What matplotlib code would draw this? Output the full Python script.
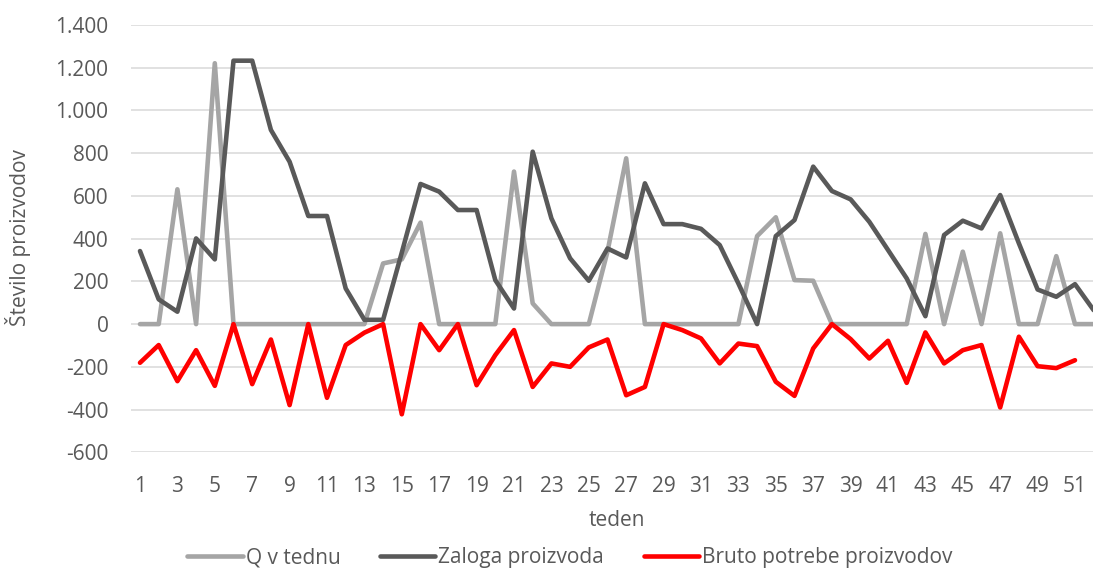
import numpy as np
import matplotlib.pyplot as plt
from matplotlib.ticker import FuncFormatter, MultipleLocator

plt.rcParams['font.family'] = ['Open Sans', 'DejaVu Sans']

weeks = list(range(1, 53))

# Q v tednu
q_v_tednu = [0, 0, 631, 0, 1221, 0, 0, 0, 0, 0, 0, 0, 0, 284, 303, 475, 0, 0, 0, 0,
             714, 97, 0, 0, 0, 340, 776, 0, 0, 0, 0, 0, 0, 412, 500, 206, 203, 0, 0, 0,
             0, 0, 422, 0, 339, 0, 425, 0, 0, 318, 0, 0]

# Zaloga proizvoda
zaloga = [342, 116, 58, 401, 303, 1233, 1233, 909, 760, 506, 506, 167, 20, 20, 335, 656,
          620, 534, 534, 206, 73, 807, 495, 308, 203, 354, 312, 659, 468, 468, 446, 370,
          190, 0, 412, 487, 737, 623, 584, 479, 347, 214, 37, 417, 484, 448, 604, 378,
          162, 128, 187, 65]

# Bruto potrebe proizvodov (51 tednov)
bruto = [-181, -98, -267, -122, -289, 0, -281, -72, -379, 0, -345, -98, -40, 0, -422, 0,
         -122, 0, -286, -145, -28, -294, -184, -200, -109, -72, -333, -294, 0, -28, -67,
         -184, -91, -103, -270, -336, -114, 0, -70, -161, -78, -275, -39, -184, -122, -98,
         -390, -59, -197, -206, -169]

text_col = '#595959'

fig = plt.figure(figsize=(10.93, 5.69), dpi=100)
ax = fig.add_axes([130.65 / 1093, 116.7 / 569, 972.4 / 1093, 427.3 / 569])

kw = dict(linewidth=3.3, solid_capstyle='round', solid_joinstyle='round')
ax.plot(weeks, q_v_tednu, color='#A5A5A5', label='Q v tednu', **kw)
ax.plot(weeks, zaloga, color='#595959', label='Zaloga proizvoda', **kw)
ax.plot(weeks[:len(bruto)], bruto, color='#FF0000', label='Bruto potrebe proizvodov', **kw)

ax.set_xlim(0.5, 52.5)
ax.set_ylim(-600, 1400)
ax.yaxis.set_major_locator(MultipleLocator(200))
ax.yaxis.set_major_formatter(FuncFormatter(lambda v, p: f"{v:,.0f}".replace(',', '.')))
ax.set_xticks(weeks[::2])
ax.set_xticklabels([str(w) for w in weeks[::2]])

ax.grid(axis='y', color='#D9D9D9', linewidth=1.1)
ax.set_axisbelow(True)
for s in ax.spines.values():
    s.set_visible(False)
ax.tick_params(axis='both', length=0, labelsize=15, colors=text_col)
ax.tick_params(axis='y', pad=16)
ax.tick_params(axis='x', pad=17)

fig.text(617 / 1093, 1 - 520 / 569, 'teden', ha='center', va='center', fontsize=15, color=text_col)
fig.text(18 / 1093, 1 - 238 / 569, 'Število proizvodov', ha='center', va='center',
         rotation=90, fontsize=15, color=text_col)

fig.legend(loc='center', bbox_to_anchor=(570 / 1093, 1 - 558 / 569), ncol=3, frameon=False,
           fontsize=15, handlelength=2.65, handletextpad=0.15, columnspacing=1.9,
           labelcolor=text_col)

fig.savefig('out.png', dpi=100)
